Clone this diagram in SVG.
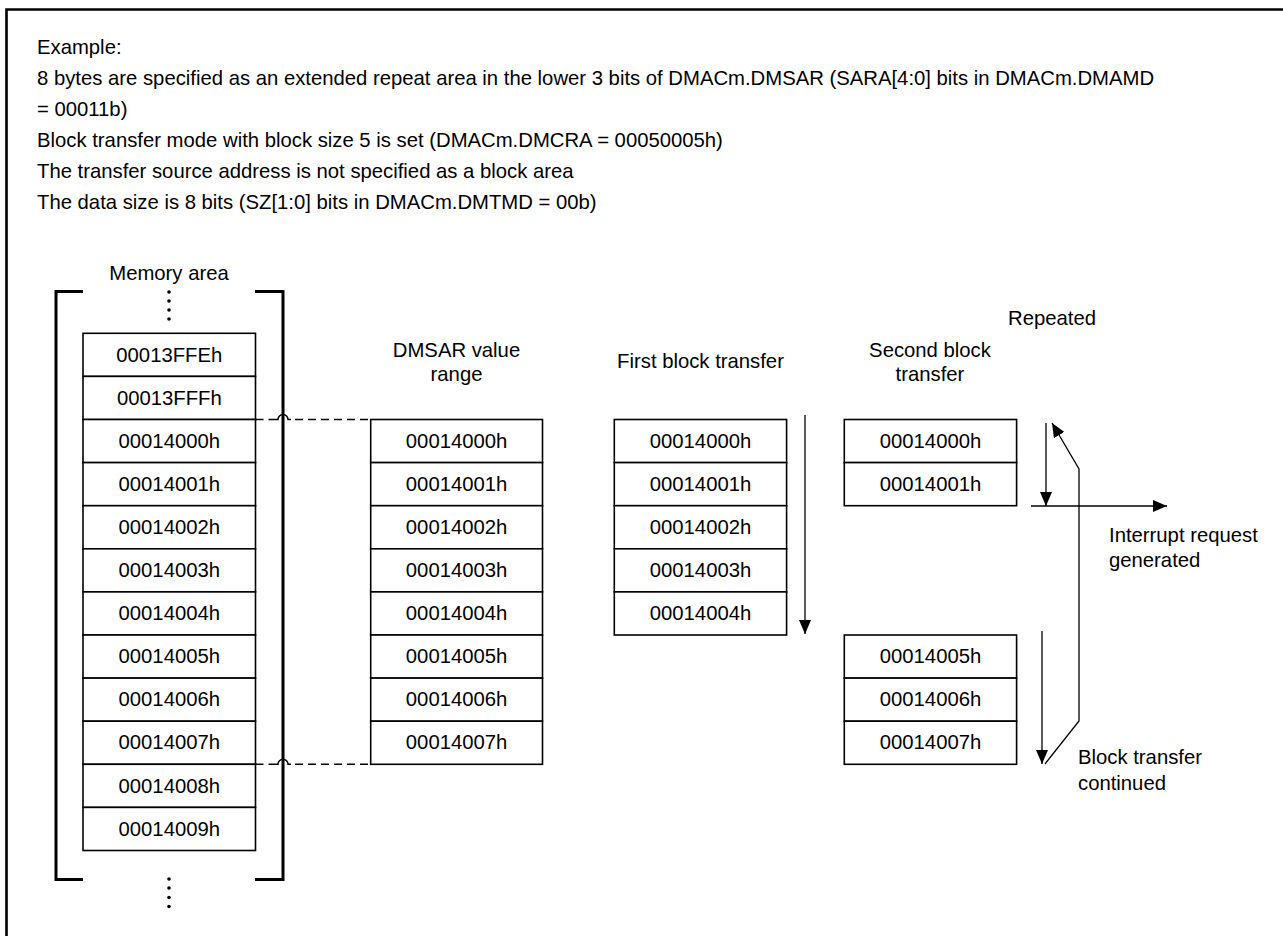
<svg xmlns="http://www.w3.org/2000/svg" width="1283" height="936" viewBox="0 0 1283 936">
<style>
text{font-family:"Liberation Sans",Arial,sans-serif;font-size:20.3px;fill:#000}
.c{text-anchor:middle}
.cell{fill:#fff;stroke:#000;stroke-width:1.6}
.br{fill:none;stroke:#000;stroke-width:3}
.dash{fill:none;stroke:#000;stroke-width:1.5;stroke-dasharray:8 5}
.hop{fill:none;stroke:#000;stroke-width:1.5}
.ar{fill:none;stroke:#000;stroke-width:1.3}
</style>
<defs>
<marker id="ah" viewBox="0 0 14 12" refX="14" refY="6" markerWidth="14" markerHeight="12" markerUnits="userSpaceOnUse" orient="auto">
<path d="M0,0 L14,6 L0,12 Z" fill="#000"/>
</marker>
</defs>
<rect width="1283" height="936" fill="#fff"/>
<path d="M6.5,940 V9.5 H1290" fill="none" stroke="#000" stroke-width="2.6"/>
<g id="header">
<text x="37" y="54">Example:</text>
<text x="37" y="85">8 bytes are specified as an extended repeat area in the lower 3 bits of DMACm.DMSAR (SARA[4:0] bits in DMACm.DMAMD</text>
<text x="37" y="116">= 00011b)</text>
<text x="37" y="147">Block transfer mode with block size 5 is set (DMACm.DMCRA = 00050005h)</text>
<text x="37" y="178">The transfer source address is not specified as a block area</text>
<text x="37" y="209">The data size is 8 bits (SZ[1:0] bits in DMACm.DMTMD = 00b)</text>
</g>
<g id="memory">
<text class="c" x="169" y="280">Memory area</text>
<path class="br" d="M83,291.5 H56 V879.5 H83"/>
<path class="br" d="M255,291.5 H283 V879.5 H255"/>
<g fill="#000">
<circle cx="169" cy="292" r="1.8"/><circle cx="169" cy="301" r="1.8"/><circle cx="169" cy="310" r="1.8"/><circle cx="169" cy="319" r="1.8"/>
<circle cx="169" cy="879" r="1.8"/><circle cx="169" cy="888" r="1.8"/><circle cx="169" cy="897.5" r="1.8"/><circle cx="169" cy="906.5" r="1.8"/>
</g>
<rect class="cell" x="83" y="333.3" width="172.5" height="43.1"/><text class="c" x="169.3" y="361.5">00013FFEh</text>
<rect class="cell" x="83" y="376.4" width="172.5" height="43.1"/><text class="c" x="169.3" y="404.6">00013FFFh</text>
<rect class="cell" x="83" y="419.5" width="172.5" height="43.1"/><text class="c" x="169.3" y="447.7">00014000h</text>
<rect class="cell" x="83" y="462.6" width="172.5" height="43.1"/><text class="c" x="169.3" y="490.8">00014001h</text>
<rect class="cell" x="83" y="505.7" width="172.5" height="43.1"/><text class="c" x="169.3" y="533.9">00014002h</text>
<rect class="cell" x="83" y="548.8" width="172.5" height="43.1"/><text class="c" x="169.3" y="577">00014003h</text>
<rect class="cell" x="83" y="591.9" width="172.5" height="43.1"/><text class="c" x="169.3" y="620.1">00014004h</text>
<rect class="cell" x="83" y="635" width="172.5" height="43.1"/><text class="c" x="169.3" y="663.2">00014005h</text>
<rect class="cell" x="83" y="678.1" width="172.5" height="43.1"/><text class="c" x="169.3" y="706.3">00014006h</text>
<rect class="cell" x="83" y="721.2" width="172.5" height="43.1"/><text class="c" x="169.3" y="749.4">00014007h</text>
<rect class="cell" x="83" y="764.3" width="172.5" height="43.1"/><text class="c" x="169.3" y="792.5">00014008h</text>
<rect class="cell" x="83" y="807.4" width="172.5" height="43.1"/><text class="c" x="169.3" y="835.6">00014009h</text>
</g>
<g id="dmsar">
<text class="c" x="456.5" y="357">DMSAR value</text>
<text class="c" x="456.5" y="381">range</text>
<rect class="cell" x="370.7" y="419.5" width="171.8" height="43.1"/><text class="c" x="456.6" y="447.7">00014000h</text>
<rect class="cell" x="370.7" y="462.6" width="171.8" height="43.1"/><text class="c" x="456.6" y="490.8">00014001h</text>
<rect class="cell" x="370.7" y="505.7" width="171.8" height="43.1"/><text class="c" x="456.6" y="533.9">00014002h</text>
<rect class="cell" x="370.7" y="548.8" width="171.8" height="43.1"/><text class="c" x="456.6" y="577">00014003h</text>
<rect class="cell" x="370.7" y="591.9" width="171.8" height="43.1"/><text class="c" x="456.6" y="620.1">00014004h</text>
<rect class="cell" x="370.7" y="635" width="171.8" height="43.1"/><text class="c" x="456.6" y="663.2">00014005h</text>
<rect class="cell" x="370.7" y="678.1" width="171.8" height="43.1"/><text class="c" x="456.6" y="706.3">00014006h</text>
<rect class="cell" x="370.7" y="721.2" width="171.8" height="43.1"/><text class="c" x="456.6" y="749.4">00014007h</text>
</g>
<g id="first-block">
<text class="c" x="700.5" y="368">First block transfer</text>
<rect class="cell" x="614.3" y="419.5" width="172.3" height="43.1"/><text class="c" x="700.5" y="447.7">00014000h</text>
<rect class="cell" x="614.3" y="462.6" width="172.3" height="43.1"/><text class="c" x="700.5" y="490.8">00014001h</text>
<rect class="cell" x="614.3" y="505.7" width="172.3" height="43.1"/><text class="c" x="700.5" y="533.9">00014002h</text>
<rect class="cell" x="614.3" y="548.8" width="172.3" height="43.1"/><text class="c" x="700.5" y="577">00014003h</text>
<rect class="cell" x="614.3" y="591.9" width="172.3" height="43.1"/><text class="c" x="700.5" y="620.1">00014004h</text>
</g>
<g id="second-block">
<text class="c" x="930" y="357">Second block</text>
<text class="c" x="930" y="381">transfer</text>
<rect class="cell" x="844.3" y="419.5" width="172.3" height="43.1"/><text class="c" x="930.5" y="447.7">00014000h</text>
<rect class="cell" x="844.3" y="462.6" width="172.3" height="43.1"/><text class="c" x="930.5" y="490.8">00014001h</text>
<rect class="cell" x="844.3" y="635" width="172.3" height="43.1"/><text class="c" x="930.5" y="663.2">00014005h</text>
<rect class="cell" x="844.3" y="678.1" width="172.3" height="43.1"/><text class="c" x="930.5" y="706.3">00014006h</text>
<rect class="cell" x="844.3" y="721.2" width="172.3" height="43.1"/><text class="c" x="930.5" y="749.4">00014007h</text>
</g>
<g id="labels">
<text class="c" x="1052" y="325">Repeated</text>
<text x="1109" y="542">Interrupt request</text>
<text x="1109" y="567">generated</text>
<text x="1078" y="764">Block transfer</text>
<text x="1078" y="790">continued</text>
</g>
<g id="connectors">
<path class="dash" d="M255.5,419.5 H275"/>
<path class="hop" d="M275,419.5 H278 A5,5 0 0 1 288,419.5 H291"/>
<path class="dash" d="M295,419.5 H370.7"/>
<path class="dash" d="M255.5,764.3 H275"/>
<path class="hop" d="M275,764.3 H278 A5,5 0 0 1 288,764.3 H291"/>
<path class="dash" d="M295,764.3 H370.7"/>
<path class="ar" d="M805,415 V634" marker-end="url(#ah)"/>
<path class="ar" d="M1046,423 V506" marker-end="url(#ah)"/>
<path class="ar" d="M1042,631 V764" marker-end="url(#ah)"/>
<path class="ar" d="M1031,506 H1167" marker-end="url(#ah)"/>
<path class="ar" d="M1045,764 L1079,721 V469 L1052,423" marker-end="url(#ah)"/>
</g>
</svg>
